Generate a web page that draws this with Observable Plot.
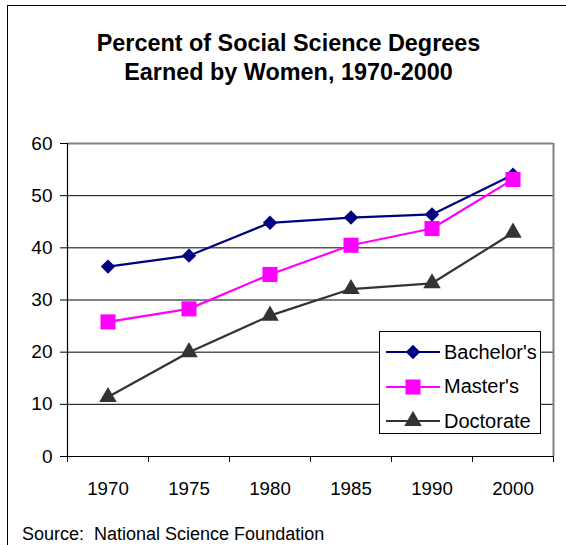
<!DOCTYPE html>
<html>
<head>
<meta charset="utf-8">
<script src="https://cdn.jsdelivr.net/npm/d3@7"></script>
<script src="https://cdn.jsdelivr.net/npm/@observablehq/plot@0.6"></script>
<style>
  html, body { margin: 0; padding: 0; background: #fff; }
  #wrap { position: relative; width: 566px; height: 545px; overflow: hidden; font-family: "Liberation Sans", Arial, sans-serif; color: #000; }
  #border { position: absolute; left: 7px; top: 5px; width: 600px; height: 600px; border-left: 1.5px solid #000; border-top: 1.5px solid #000; box-sizing: border-box; }
  #title { position: absolute; left: 0; top: 29px; width: 577px; text-align: center; font-weight: bold; font-size: 23.4px; line-height: 29px; }
  #chart { position: absolute; left: 0; top: 0; }
  #legend { position: absolute; left: 379px; top: 331px; width: 162px; height: 103px; box-sizing: border-box; border: 1px solid #000; background: #fff; }
  .lrow { position: absolute; left: 6px; height: 20px; display: flex; align-items: center; font-size: 20px; }
  .lrow svg { display: block; margin-right: 4px; }
  #source { position: absolute; left: 22px; top: 524px; font-size: 18px; line-height: 21px; white-space: pre; }
</style>
</head>
<body>
<div id="wrap">
  <div id="border"></div>
  <div id="title">Percent of Social Science Degrees<br>Earned by Women, 1970-2000</div>
  <div id="chart"></div>
  <div id="legend"></div>
  <div id="source">Source:  National Science Foundation</div>
</div>
<script>
// ---- data ----
const years = ["1970", "1975", "1980", "1985", "1990", "2000"];
const seriesNames = ["Bachelor's", "Master's", "Doctorate"];
const bachelors = [36.4, 38.5, 44.8, 45.8, 46.4, 54.0];
const masters   = [25.8, 28.3, 34.9, 40.5, 43.7, 53.1];
const doctorate = [11.4, 20.0, 27.0, 32.1, 33.2, 42.9];
const yTicks = [0, 10, 20, 30, 40, 50, 60];

const seriesColors = ["#000080", "#FF00FF", "#333333"];
const seriesSymbols = ["diamond2", "square", "triangle"];
const seriesR = [6.5, 8.5, 6.5];

const valuesBySeries = [bachelors, masters, doctorate];
const data = [];
seriesNames.forEach((s, si) => {
  valuesBySeries[si].forEach((v, i) => data.push({series: s, i, year: years[i], value: v}));
});
const boundaries = d3.range(-0.5, years.length, 1);
const centers = d3.range(0, years.length);

const chart = Plot.plot({
  width: 566,
  height: 545,
  marginLeft: 67,
  marginRight: 13,
  marginTop: 143,
  marginBottom: 89,
  style: {fontFamily: "'Liberation Sans', Arial, sans-serif", fontSize: "19px", background: "transparent", color: "#000"},
  x: {domain: [-0.5, years.length - 0.5]},
  y: {domain: [0, 60]},
  color: {domain: seriesNames, range: seriesColors},
  marks: [
    Plot.ruleY(yTicks.filter(d => d > 0 && d < 60), {stroke: "#000", strokeWidth: 1}),
    Plot.ruleY([60], {stroke: "#808080", strokeWidth: 2}),
    Plot.ruleX([years.length - 0.5], {stroke: "#808080", strokeWidth: 2}),
    Plot.axisY({ticks: yTicks, tickSize: 7, tickPadding: 8, fontSize: 19, label: null, stroke: "#000"}),
    Plot.axisX({ticks: boundaries, tickSize: 6, tickFormat: () => "", label: null, stroke: "#000"}),
    Plot.axisX({ticks: centers, tickSize: 0, tickPadding: 25, tickFormat: i => years[i], fontSize: 18.7, label: null}),
    Plot.ruleX([-0.5], {stroke: "#000", strokeWidth: 1.2}),
    Plot.ruleY([0], {stroke: "#000", strokeWidth: 1.2}),
    Plot.line(data, {x: "i", y: "value", z: "series", stroke: "series", strokeWidth: 2.2}),
    ...seriesNames.map((s, si) =>
      Plot.dot(data.filter(d => d.series === s), {x: "i", y: "value", symbol: () => seriesSymbols[si], fill: seriesColors[si], r: seriesR[si], stroke: "none"})
    )
  ]
});
document.getElementById("chart").appendChild(chart);

// ---- legend ----
const legend = document.getElementById("legend");
const rowCenters = [20, 54.5, 89];
const d3Symbols = {diamond2: d3.symbolDiamond2, square: d3.symbolSquare, triangle: d3.symbolTriangle};
seriesNames.forEach((s, si) => {
  const row = document.createElement("div");
  row.className = "lrow";
  row.style.top = (rowCenters[si] - 10) + "px";
  const ns = "http://www.w3.org/2000/svg";
  const svg = document.createElementNS(ns, "svg");
  svg.setAttribute("width", 54); svg.setAttribute("height", 20);
  const line = document.createElementNS(ns, "line");
  line.setAttribute("x1", 0); line.setAttribute("x2", 54);
  line.setAttribute("y1", 10); line.setAttribute("y2", 10);
  line.setAttribute("stroke", seriesColors[si]); line.setAttribute("stroke-width", 2.2);
  svg.appendChild(line);
  const p = document.createElementNS(ns, "path");
  const size = Math.PI * seriesR[si] * seriesR[si];
  p.setAttribute("d", d3.symbol(d3Symbols[seriesSymbols[si]], size)());
  p.setAttribute("transform", "translate(27,10)");
  p.setAttribute("fill", seriesColors[si]);
  svg.appendChild(p);
  row.appendChild(svg);
  const t = document.createElement("span");
  t.textContent = s;
  row.appendChild(t);
  legend.appendChild(row);
});
</script>
</body>
</html>
